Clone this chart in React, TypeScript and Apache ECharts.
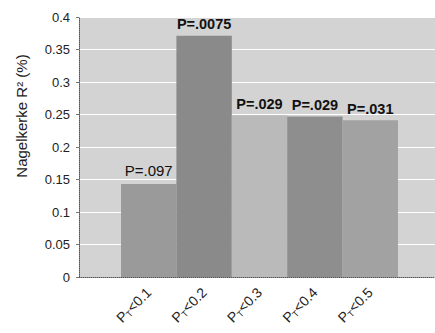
import React, { useEffect, useRef } from "react";
import * as echarts from "echarts";

const categories = ["0.1", "0.2", "0.3", "0.4", "0.5"];
const values = [0.143, 0.371, 0.249, 0.247, 0.241];
const pLabels = ["P=.097", "P=.0075", "P=.029", "P=.029", "P=.031"];
const barColors = ["#9a9a9a", "#8a8a8a", "#bababa", "#8e8e8e", "#a2a2a2"];
const yMax = 0.4;
const yStep = 0.05;
const yTitle = "Nagelkerke R² (%)";

export default function App() {
  const ref = useRef<HTMLDivElement>(null);
  useEffect(() => {
    if (!ref.current) return;
    const chart = echarts.init(ref.current, null, { renderer: "svg" });
    const font = "Liberation Sans, Arial, sans-serif";
    chart.setOption({
      animation: false,
      graphic: [
        {
          type: "text",
          x: 21,
          y: 116,
          rotation: Math.PI / 2,
          style: {
            text: yTitle,
            fontFamily: font,
            fontSize: 15,
            fill: "#222",
            align: "center",
            verticalAlign: "middle",
          },
        },
      ],
      grid: [
        { left: 79, right: 0, top: 17, bottom: 56, show: true, backgroundColor: "#d3d3d3", borderWidth: 0 },
        { left: 121, right: 37, top: 17, bottom: 56 },
      ],
      xAxis: [
        {
          type: "category",
          gridIndex: 0,
          data: ["a"],
          axisLine: { show: true, lineStyle: { color: "#555", type: "dotted" } },
          axisTick: { show: false },
          axisLabel: { show: false },
        },
        {
          type: "category",
          gridIndex: 1,
          data: categories,
          axisLine: { show: false },
          axisTick: { show: false },
          axisLabel: {
            rotate: 45,
            margin: 13,
            formatter: (v: string) => `{p|P}{s|T}{p|<${v}}`,
            rich: {
              p: { fontFamily: font, fontSize: 14, color: "#222" },
              s: { fontFamily: font, fontSize: 9, color: "#222", verticalAlign: "bottom", padding: [7, 0, 0, 0] },
            },
          },
        },
      ],
      yAxis: [
        {
          type: "value",
          gridIndex: 0,
          min: 0,
          max: yMax,
          interval: yStep,
          axisLine: { show: true, lineStyle: { color: "#555", type: "dotted" } },
          axisTick: { show: true, length: 3, lineStyle: { color: "#777" } },
          axisLabel: { fontFamily: font, fontSize: 13, color: "#222", margin: 9 },
          splitLine: { show: true, lineStyle: { color: "#ffffff", width: 1 } },
        },
        { type: "value", gridIndex: 1, min: 0, max: yMax, interval: yStep, show: false, splitLine: { show: false } },
      ],
      series: [
        {
          type: "bar",
          xAxisIndex: 1,
          yAxisIndex: 1,
          barCategoryGap: 0,
          data: values.map((v, i) => ({
            value: v,
            itemStyle: { color: barColors[i] },
            label: {
              show: true,
              position: "top",
              distance: i === 0 ? 6 : 4,
              formatter: pLabels[i],
              fontFamily: font,
              fontSize: i === 0 ? 15 : 14.5,
              fontWeight: i === 0 ? "normal" : "bold",
              color: "#111",
            },
          })),
        },
      ],
    });
    return () => chart.dispose();
  }, []);
  return <div ref={ref} style={{ width: 435, height: 333, position: "absolute", left: 0, top: 0 }} />;
}
